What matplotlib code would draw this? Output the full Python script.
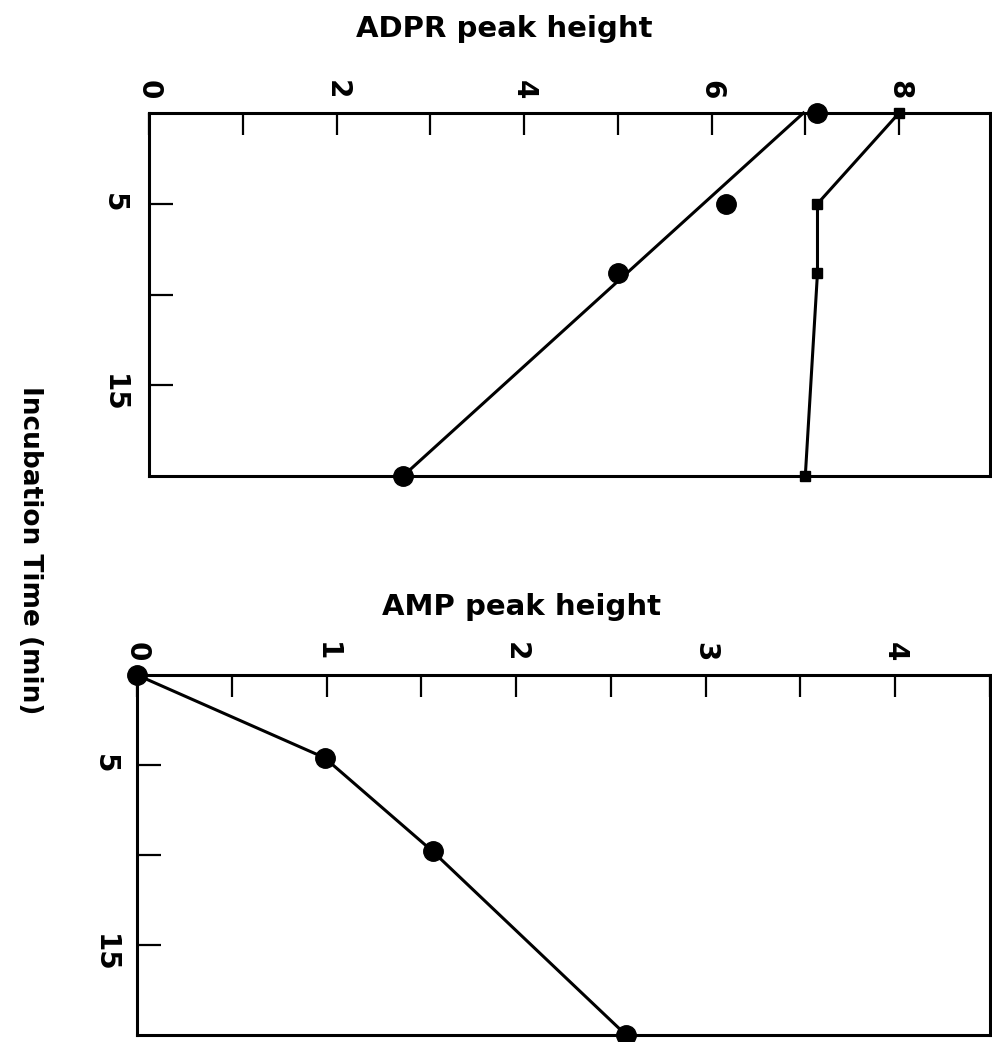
import matplotlib
matplotlib.use("Agg")
import matplotlib.pyplot as plt
from matplotlib.ticker import FixedLocator, MultipleLocator

# ADPR peak height vs incubation time
adpr_time = [0, 5, 8.8, 20]
adpr_circles = [7.13, 6.15, 5.0, 2.71]
adpr_squares = [8.0, 7.13, 7.13, 7.0]
adpr_fit_time = [0, 20]
adpr_fit = [6.98, 2.71]
adpr_ticks = [0, 2, 4, 6, 8]

# AMP peak height vs incubation time
amp_time = [0, 4.6, 9.8, 20]
amp_values = [0.0, 0.99, 1.56, 2.58]
amp_ticks = [0, 1, 2, 3, 4]

time_ticks = [5, 10, 15]
time_labels = ["5", "", "15"]

plt.rcParams['font.family'] = ['DejaVu Sans']
plt.rcParams['font.weight'] = 'bold'

W, H = 992, 1042
fig = plt.figure(figsize=(W / 100, H / 100), dpi=100)


def box(left, top, right, bottom):
    return [left / W, 1 - bottom / H, (right - left) / W, (bottom - top) / H]


ax1 = fig.add_axes(box(149, 113, 990, 476))
ax2 = fig.add_axes(box(137, 675, 990, 1035))

LW = 2.2


def style(ax, xmax, major, minor_step, ypad):
    ax.set_xlim(0, xmax)
    ax.set_ylim(20, 0)
    ax.xaxis.tick_top()
    ax.yaxis.tick_left()
    ax.xaxis.set_major_locator(FixedLocator(major))
    ax.xaxis.set_minor_locator(MultipleLocator(minor_step))
    ax.set_xticklabels([str(v) for v in major])
    ax.set_yticks(time_ticks)
    ax.set_yticklabels(time_labels)
    ax.tick_params(axis='x', which='both', direction='in', length=16,
                   width=1.6, pad=10, labelsize=20, labelrotation=-90)
    ax.tick_params(axis='y', direction='in', length=17, width=1.6,
                   pad=ypad, labelsize=20, labelrotation=-90)
    for s in ax.spines.values():
        s.set_linewidth(LW)


style(ax1, 8.97, adpr_ticks, 1, 15)
style(ax2, 4.5, amp_ticks, 0.5, 13)

ax1.plot(adpr_fit, adpr_fit_time, color='black', lw=LW, clip_on=False)
ax1.plot(adpr_circles, adpr_time, 'o', color='black', ms=14, clip_on=False)
ax1.plot(adpr_squares, adpr_time, '-s', color='black', lw=LW, ms=7,
         clip_on=False)

ax2.plot(amp_values, amp_time, '-o', color='black', lw=LW, ms=14,
         clip_on=False)

fig.text(504 / W, 1 - 37 / H, "ADPR peak height", ha='center',
         va='baseline', fontsize=21, fontweight='bold')
fig.text(522 / W, 1 - 615 / H, "AMP peak height", ha='center',
         va='baseline', fontsize=21, fontweight='bold')
fig.text(30 / W, 1 - 550 / H, "Incubation Time (min)", rotation=-90,
         ha='center', va='center', fontsize=19, fontweight='bold')

fig.savefig("out.png", dpi=100)
